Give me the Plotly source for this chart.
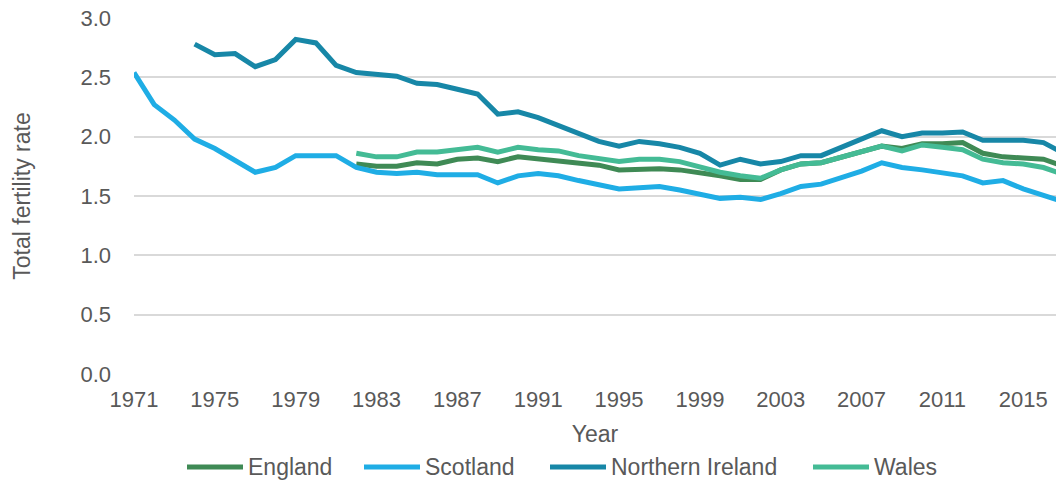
import plotly.graph_objects as go

# ---------------- data ----------------
scotland_years = list(range(1971, 2018))
scotland = [2.54, 2.27, 2.14, 1.98, 1.90, 1.80, 1.70, 1.74, 1.84, 1.84,
            1.84, 1.74, 1.70, 1.69, 1.70, 1.68, 1.68, 1.68, 1.61, 1.67,
            1.69, 1.67, 1.63, 1.59, 1.56, 1.57, 1.58, 1.55, 1.51, 1.48,
            1.49, 1.47, 1.52, 1.58, 1.60, 1.65, 1.71, 1.78, 1.74, 1.72,
            1.69, 1.67, 1.61, 1.63, 1.56, 1.51, 1.45]

ni_years = list(range(1974, 2018))
northern_ireland = [2.78, 2.69, 2.70, 2.59, 2.65, 2.82, 2.79,
                    2.60, 2.54, 2.52, 2.51, 2.45, 2.44, 2.40, 2.36, 2.19, 2.21,
                    2.16, 2.09, 2.03, 1.96, 1.92, 1.96, 1.94, 1.91, 1.86, 1.76,
                    1.81, 1.77, 1.79, 1.84, 1.84, 1.91, 1.99, 2.05, 2.00, 2.03,
                    2.03, 2.04, 1.97, 1.97, 1.97, 1.95, 1.86]

ew_years = list(range(1982, 2018))
england = [1.77, 1.75, 1.75, 1.78, 1.77, 1.81, 1.82, 1.79, 1.83,
           1.81, 1.79, 1.77, 1.76, 1.72, 1.73, 1.73, 1.72, 1.70, 1.67,
           1.64, 1.64, 1.72, 1.77, 1.78, 1.83, 1.88, 1.92, 1.90, 1.94,
           1.94, 1.95, 1.86, 1.83, 1.82, 1.81, 1.75]
wales = [1.86, 1.83, 1.83, 1.87, 1.87, 1.89, 1.91, 1.87, 1.91,
         1.89, 1.88, 1.84, 1.81, 1.79, 1.81, 1.81, 1.79, 1.74, 1.70,
         1.67, 1.65, 1.72, 1.77, 1.78, 1.83, 1.87, 1.92, 1.88, 1.93,
         1.91, 1.89, 1.81, 1.78, 1.77, 1.74, 1.68]

series_names = ["England", "Scotland", "Northern Ireland", "Wales"]
series_years = [ew_years, scotland_years, ni_years, ew_years]
series_values = [england, scotland, northern_ireland, wales]
series_colors = ["#3f8a55", "#1fade5", "#1787a7", "#44bb95"]

x_title = "Year"
y_title = "Total fertility rate"

# ---------------- layout constants ----------------
W, H = 1056, 481
ML, MR, MT, MB = 134, 0, 18, 107
TXT = "#595959"
FONT = "Liberation Sans, Arial, sans-serif"

fig = go.Figure()
for name, xs, ys, col in zip(series_names, series_years, series_values, series_colors):
    fig.add_trace(go.Scatter(x=xs, y=ys, mode="lines", name=name,
                             line=dict(color=col, width=5), showlegend=False))

# manual legend (long line samples like the original)
pw = W - ML - MR
ph = H - MT - MB
def px2x(px):
    return (px - ML) / pw
def py2y(py):
    return (H - MB - py) / ph

legend_text_left = [246, 423, 609, 872]
legend_y = 467
sample_len = 56
for name, col, tx in zip(series_names, series_colors, legend_text_left):
    fig.add_shape(type="line", xref="paper", yref="paper",
                  x0=px2x(tx - sample_len - 3), x1=px2x(tx - 3),
                  y0=py2y(legend_y), y1=py2y(legend_y),
                  line=dict(color=col, width=5))
    fig.add_annotation(text=name, xref="paper", yref="paper",
                       x=px2x(tx), y=py2y(legend_y), xanchor="left", yanchor="middle",
                       showarrow=False, font=dict(size=23, color=TXT, family=FONT))

fig.update_layout(
    width=W, height=H,
    margin=dict(l=ML, r=MR, t=MT, b=MB),
    paper_bgcolor="white", plot_bgcolor="white",
    font=dict(family=FONT, color=TXT, size=22),
    showlegend=False,
)
fig.update_xaxes(
    range=[1971, 2016.62], tick0=1971, dtick=4, tickmode="linear",
    showgrid=False, zeroline=False, showline=False,
    ticks="", ticklabelstandoff=10,
    tickfont=dict(size=22, color=TXT),
    title=dict(text=x_title, font=dict(size=23, color=TXT), standoff=14),
)
fig.update_yaxes(
    range=[0, 3], tick0=0, dtick=0.5, tickformat=".1f",
    showgrid=True, gridcolor="#d9d9d9", gridwidth=1.6,
    zeroline=False, showline=False,
    ticks="", ticklabelstandoff=22,
    tickfont=dict(size=22, color=TXT),
    title=dict(text=y_title, font=dict(size=23, color=TXT), standoff=43),
)

fig.write_html(
    "out.html",
    config={"displayModeBar": False},
    post_script="document.body.style.margin='0';document.body.style.overflow='hidden';",
)
